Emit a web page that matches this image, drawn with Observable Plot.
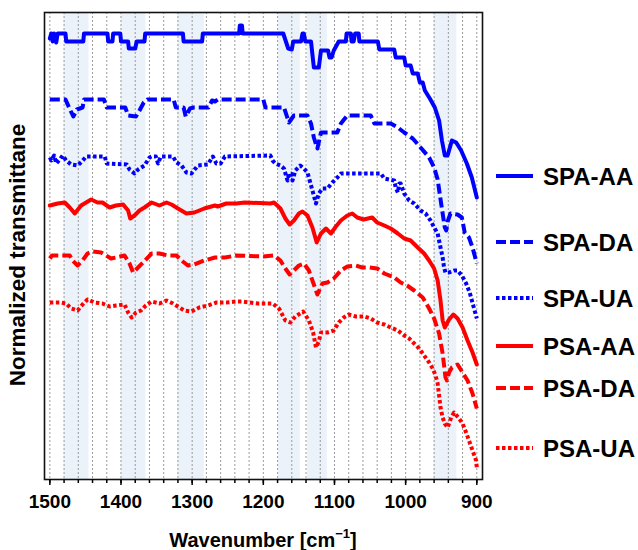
<!DOCTYPE html>
<html><head><meta charset="utf-8">
<script src="https://cdn.jsdelivr.net/npm/d3@7"></script>
<script src="https://cdn.jsdelivr.net/npm/@observablehq/plot@0.6"></script>
<style>
body{margin:0;background:#fff;}
#wrap{position:relative;width:638px;height:550px;}
#wrap svg{position:absolute;left:0;top:0;}
</style></head><body><div id="wrap"></div>
<script>
// ---- data (wavenumber, normalized transmittance in arbitrary stacked units) ----
const seriesNames = ["SPA-AA", "SPA-DA", "SPA-UA", "PSA-AA", "PSA-DA", "PSA-UA"];
const seriesColors = ["#0000ff", "#0000ff", "#0000ff", "#ff0000", "#ff0000", "#ff0000"];
const seriesDash = [null, "10,4", "3.5,2.5", null, "10,4", "3.5,2.5"];

const spaAA = [[1500,441],[1498,446],[1496,438],[1494,446],[1491,437],[1489,446],[1478,446],[1477,438],[1453,438],[1452,446],[1419,446],[1418,438],[1412,438],[1411,446],[1401,446],[1400,438],[1390,438],[1389,431],[1380,431],[1378,438],[1367,438],[1366,446],[1313,446],[1312,438],[1286,438],[1285,446],[1234,446],[1233,454],[1230,454],[1229,446],[1172,446],[1165,431],[1160,430],[1158,438],[1147,438],[1145,446],[1143,446],[1141,438],[1133,438],[1129,412],[1122,412],[1119,429],[1109,429],[1107,422],[1104,422],[1101,429],[1094,438],[1084,438],[1083,446],[1077,446],[1076,438],[1073,438],[1071,446],[1066,446],[1065,438],[1039,438],[1037,430],[1016,430],[1014,422],[1002,422],[1000,414],[993,414],[990,406],[983,406],[980,397],[976,397],[973,389],[966,381],[959,372],[953,359],[949,339],[945,324],[941,324],[935,339],[929,337],[922,329],[914,316],[907,302],[900,282]];

const spaDA = [[1500,380],[1478,380],[1473,372],[1467,363],[1462,370],[1454,372],[1452,380],[1424,380],[1420,372],[1394,372],[1390,364],[1379,363],[1374,369],[1368,377],[1363,380],[1326,380],[1323,372],[1312,372],[1309,363],[1303,371],[1298,372],[1277,372],[1272,379],[1268,378],[1264,380],[1200,380],[1197,372],[1171,372],[1164,357],[1157,364],[1138,364],[1133,356],[1129,342],[1124,331],[1119,347],[1096,347],[1091,356],[1082,364],[1049,364],[1044,356],[1021,356],[1011,352],[1002,347],[990,341],[979,332],[967,322],[960,312],[955,300],[952,285],[948,266],[945,252],[943,249],[941,258],[937,266],[927,265],[921,262],[917,247],[911,242],[906,232],[900,216]];

const spaUA = [[1500,322],[1498,319],[1494,324],[1491,316],[1486,320],[1482,324],[1477,319],[1470,315],[1461,314],[1455,318],[1449,323],[1423,323],[1420,316],[1392,315],[1388,310],[1381,306],[1376,310],[1367,314],[1360,322],[1357,323],[1351,323],[1348,316],[1344,323],[1327,323],[1322,317],[1315,314],[1308,307],[1301,306],[1292,314],[1278,315],[1271,323],[1266,316],[1260,316],[1254,323],[1190,324],[1187,319],[1183,316],[1176,314],[1171,311],[1166,299],[1164,306],[1161,306],[1159,299],[1155,309],[1148,314],[1143,311],[1138,307],[1136,302],[1131,289],[1126,276],[1122,286],[1117,291],[1110,291],[1103,297],[1096,302],[1091,306],[1035,306],[1030,301],[1016,299],[1014,292],[1011,287],[1009,296],[1007,296],[1002,286],[995,279],[988,276],[979,269],[972,266],[965,259],[960,252],[955,246],[953,239],[951,232],[948,222],[946,212],[944,207],[939,207],[932,209],[927,209],[921,204],[915,196],[910,187],[905,174],[900,161]];

const psaAA = [[1500,274],[1489,276],[1479,277],[1472,272],[1465,266],[1456,274],[1449,277],[1442,280],[1433,277],[1426,277],[1416,272],[1407,274],[1397,275],[1390,269],[1387,261],[1381,264],[1374,269],[1367,272],[1357,277],[1346,274],[1336,277],[1329,275],[1320,271],[1308,266],[1297,267],[1283,271],[1268,274],[1264,273],[1252,276],[1238,276],[1226,277],[1190,276],[1185,277],[1176,271],[1169,261],[1163,255],[1157,259],[1150,266],[1145,268],[1138,264],[1131,252],[1125,237],[1119,246],[1112,251],[1105,246],[1098,253],[1091,259],[1082,264],[1075,266],[1068,262],[1059,260],[1047,262],[1040,257],[1030,254],[1021,251],[1011,246],[1002,241],[993,239],[983,232],[974,226],[967,219],[960,211],[955,199],[951,179],[948,159],[945,152],[939,160],[933,165],[927,161],[920,152],[913,139],[906,127],[900,115]];

const psaDA = [[1500,221],[1497,224],[1472,224],[1468,219],[1461,214],[1454,219],[1447,226],[1440,228],[1428,227],[1421,224],[1414,221],[1407,222],[1395,224],[1388,216],[1383,207],[1376,212],[1369,217],[1357,226],[1346,226],[1334,224],[1322,224],[1315,219],[1306,214],[1297,215],[1283,219],[1268,222],[1254,222],[1238,224],[1200,223],[1185,224],[1176,219],[1169,211],[1163,205],[1157,209],[1150,214],[1143,216],[1136,209],[1130,197],[1124,185],[1117,196],[1110,197],[1101,201],[1091,209],[1082,213],[1070,214],[1061,212],[1051,212],[1040,211],[1030,206],[1016,202],[1007,197],[998,194],[988,189],[976,182],[967,171],[960,161],[953,146],[948,126],[944,102],[942,99],[939,107],[935,112],[927,115],[920,107],[913,99],[906,86],[900,71]];

const psaUA = [[1500,177],[1486,177],[1477,176],[1470,171],[1461,169],[1454,175],[1447,180],[1437,177],[1426,176],[1416,173],[1407,174],[1395,175],[1390,167],[1385,162],[1379,167],[1372,169],[1365,174],[1357,178],[1346,176],[1336,179],[1327,176],[1320,173],[1311,169],[1301,168],[1290,172],[1278,174],[1266,177],[1252,177],[1238,178],[1230,178],[1208,176],[1187,176],[1178,171],[1169,159],[1162,157],[1155,163],[1144,168],[1136,159],[1130,147],[1126,132],[1122,138],[1119,147],[1110,147],[1101,149],[1094,157],[1087,162],[1080,165],[1070,163],[1058,163],[1049,161],[1040,157],[1030,155],[1021,152],[1011,149],[1002,144],[995,141],[988,136],[981,131],[974,124],[967,117],[962,111],[958,104],[955,96],[953,84],[951,72],[948,62],[945,56],[941,52],[936,62],[932,67],[926,62],[920,56],[915,47],[911,39],[906,29],[901,19],[900,12]];

const seriesData = [spaAA, spaDA, spaUA, psaAA, psaDA, psaUA];

// highlighted wavenumber bands
const bandStart = [1480, 1400, 1320, 1179, 1138, 960];
const bandEnd   = [1445, 1365, 1283, 1148, 1110, 928];

const majorTicks = [1500, 1400, 1300, 1200, 1100, 1000, 900];
const minorTicks = d3.range(900, 1501, 20);

const xLabel = "Wavenumber [cm";
const yLabel = "Normalized transmittane";

// ---- chart ----
const FONT = "'Liberation Sans', Arial, Helvetica, sans-serif";
const rows = (arr) => arr.map(([w, v]) => ({w, v}));
const bands = bandStart.map((a, i) => ({a, b: bandEnd[i]}));

const lineMarks = seriesData.map((arr, i) => Plot.line(rows(arr), {
  x: "w", y: "v",
  stroke: seriesColors[i],
  strokeWidth: 4,
  strokeDasharray: seriesDash[i] ?? undefined,
  strokeLinecap: seriesDash[i] ? "butt" : "round",
  strokeLinejoin: "round"
}));

const chart = Plot.plot({
  width: 638, height: 550,
  marginLeft: 44, marginRight: 156, marginTop: 12, marginBottom: 71,
  style: {fontFamily: FONT, fontSize: "19px", fontWeight: "bold", color: "#000", background: "transparent"},
  x: {domain: [1507.5, 892]},
  y: {domain: [0, 467], axis: null},
  marks: [
    Plot.rect(bands, {x1: "a", x2: "b", fill: "#e4eef8", fillOpacity: 0.75}),
    Plot.gridX(minorTicks, {stroke: "#8a8a8a", strokeOpacity: 0.85, strokeDasharray: "2,2", strokeWidth: 1}),
    ...lineMarks,
    Plot.frame({stroke: "#111", strokeWidth: 1.6}),
    Plot.axisX(minorTicks, {tickSize: 4, tickFormat: () => "", strokeWidth: 1.5, label: null}),
    Plot.axisX(majorTicks, {tickSize: 6, tickPadding: 9, strokeWidth: 1.5, tickFormat: d => String(d), fontSize: 19, fontWeight: "bold", label: null})
  ]
});
const wrap = document.getElementById("wrap");
wrap.appendChild(chart);

// ---- labels and legend overlay ----
const ov = d3.select(wrap).append("svg")
  .attr("width", 638).attr("height", 550)
  .style("font-family", FONT).style("font-weight", "bold")
  .style("pointer-events", "none");

const xt = ov.append("text").attr("x", 263).attr("y", 547)
  .attr("text-anchor", "middle").attr("font-size", 20).attr("fill", "#000");
xt.append("tspan").text(xLabel);
xt.append("tspan").attr("font-size", 13).attr("dy", -9).text("\u22121");
xt.append("tspan").attr("dy", 9).text("]");

ov.append("text")
  .attr("transform", "translate(25,255) rotate(-90)")
  .attr("text-anchor", "middle").attr("font-size", 22.5).attr("fill", "#000")
  .text(yLabel);

const legendY = [176, 242, 298, 346, 388, 448];
const lg = ov.append("g");
seriesNames.forEach((name, i) => {
  lg.append("line").attr("x1", 496).attr("x2", 533)
    .attr("y1", legendY[i]).attr("y2", legendY[i])
    .attr("stroke", seriesColors[i]).attr("stroke-width", 4)
    .attr("stroke-dasharray", seriesDash[i] || null);
  lg.append("text").attr("x", 543).attr("y", legendY[i])
    .attr("dominant-baseline", "central").attr("font-size", 24).attr("fill", "#000")
    .text(name);
});
</script></body></html>
